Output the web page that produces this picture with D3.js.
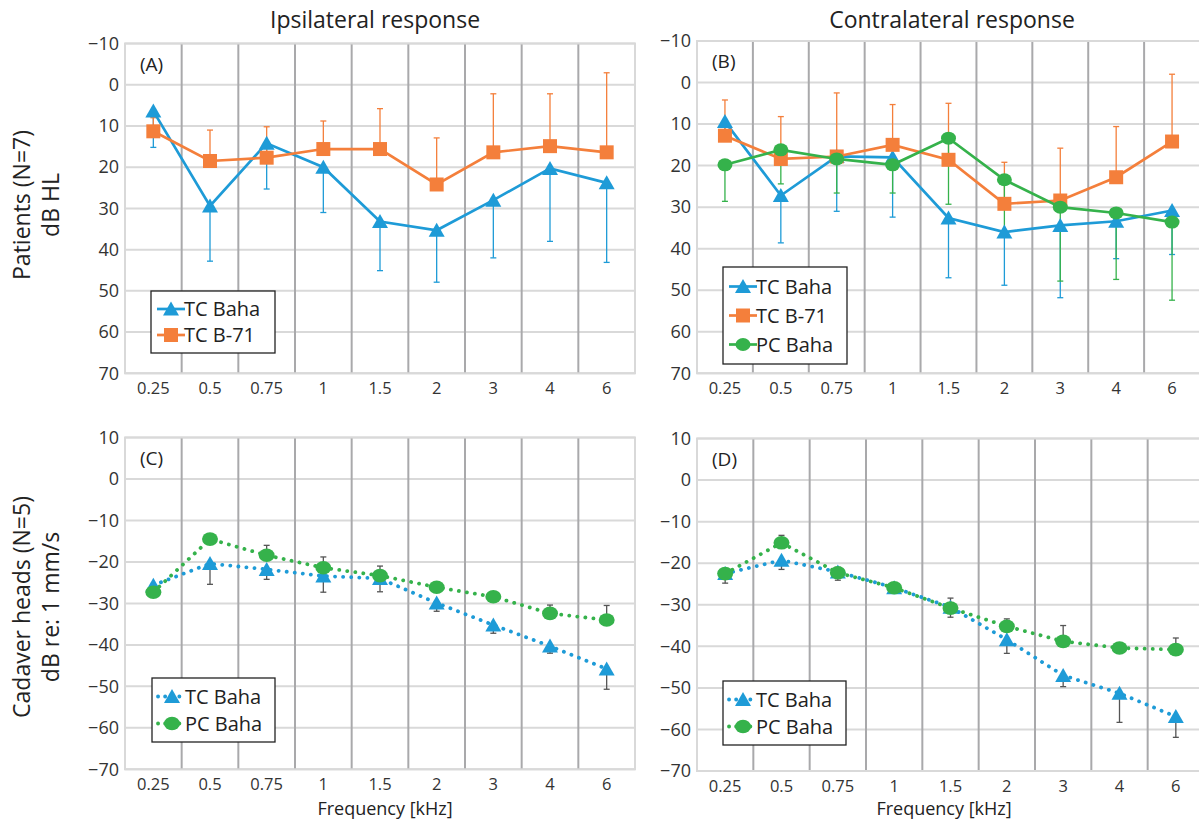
<!DOCTYPE html>
<html><head><meta charset="utf-8">
<script src="https://cdn.jsdelivr.net/npm/d3@7"></script>
<style>
body{margin:0;background:#fff;}
svg{display:block;font-family:"Open Sans",sans-serif;}
</style></head>
<body><svg id="chart" width="1199" height="825"></svg>
<script>
// ---------- data ----------
const freqs = ["0.25","0.5","0.75","1","1.5","2","3","4","6"];
const yTicksTop = [-10,0,10,20,30,40,50,60,70];
const yTicksBottom = [10,0,-10,-20,-30,-40,-50,-60,-70];

// Panel A (ipsilateral, patients)
const A_tcBaha    = [6.4, 29.4, 14.2, 20.0, 33.2, 35.3, 28.0, 20.3, 23.8];
const A_tcBahaErr = [15.2, 42.8, 25.3, 31.0, 45.1, 47.9, 42.0, 38.0, 43.1];
const A_tcB71     = [11.3, 18.5, 17.7, 15.6, 15.6, 24.2, 16.4, 14.9, 16.4];
const A_tcB71Err  = [8.0, 11.0, 10.2, 8.8, 5.8, 12.9, 2.2, 2.2, -2.9];

// Panel B (contralateral, patients)
const B_tcBaha    = [9.4, 27.2, 17.8, 18.0, 32.6, 36.0, 34.4, 33.4, 30.8];
const B_tcBahaErr = [13.0, 38.6, 31.0, 32.4, 47.0, 48.8, 51.8, 42.4, 41.4];
const B_tcB71     = [12.8, 18.4, 17.8, 15.0, 18.6, 29.2, 28.4, 22.8, 14.2];
const B_tcB71Err  = [4.2, 8.2, 2.5, 5.3, 5.0, 19.2, 15.8, 10.6, -2.0];
const B_pcBaha    = [19.8, 16.2, 18.4, 19.8, 13.4, 23.4, 30.0, 31.4, 33.6];
const B_pcBahaErr = [28.6, 24.4, 26.6, 26.6, 29.3, 36.0, 47.8, 47.4, 52.4];

// Panel C (ipsilateral, cadaver heads)
const C_tcBaha    = [-25.6, -20.4, -21.8, -23.4, -24.0, -29.9, -35.2, -40.3, -45.8];
const C_tcBahaErr = [-26.5, -25.4, -24.2, -27.3, -27.2, -31.9, -37.2, -42.0, -50.7];
const C_pcBaha    = [-27.3, -14.5, -18.4, -21.4, -23.3, -26.1, -28.4, -32.4, -34.0];
const C_pcBahaErr = [-26.5, -14.0, -16.0, -18.8, -21.0, -25.0, -28.0, -30.4, -30.5];

// Panel D (contralateral, cadaver heads)
const D_tcBaha    = [-22.5, -19.3, -22.1, -25.9, -30.6, -38.4, -47.0, -51.3, -56.9];
const D_tcBahaErr = [-24.8, -21.5, -24.1, -27.0, -33.0, -41.7, -49.7, -58.3, -61.9];
const D_pcBaha    = [-22.5, -15.1, -22.3, -25.9, -30.8, -35.2, -38.8, -40.4, -40.8];
const D_pcBahaErr = [-21.5, -13.3, -21.0, -25.0, -28.4, -33.4, -35.0, -39.5, -38.0];

// ---------- style ----------
const BLUE = "#1e9bd7", ORANGE = "#f47f3b", GREEN = "#35b24b", ERRGRAY = "#555";

const svg = d3.select("#chart");

function fmt(v){ return v < 0 ? "\u2212" + Math.abs(v) : String(v); }

function drawPanel(p){
  const g = svg.append("g");
  const x = d3.scaleBand().domain(freqs).range([p.left, p.right]).padding(0);
  const y = d3.scaleLinear().domain(p.domain).range([p.top, p.bottom]);

  g.selectAll(".hg").data(p.ticks).join("line")
    .attr("x1", p.left).attr("x2", p.right)
    .attr("y1", d => y(d)).attr("y2", d => y(d))
    .attr("stroke", "#d9d9d9").attr("stroke-width", 2);
  g.selectAll(".vg").data(freqs.slice(1)).join("line")
    .attr("x1", d => x(d)).attr("x2", d => x(d))
    .attr("y1", p.top).attr("y2", p.bottom)
    .attr("stroke", "#a9a9ab").attr("stroke-width", 2);
  g.append("rect").attr("x", p.left).attr("y", p.top)
    .attr("width", p.right - p.left).attr("height", p.bottom - p.top)
    .attr("fill", "none").attr("stroke", "#d9d9d9").attr("stroke-width", 2);

  const ya = d3.axisLeft(y).tickValues(p.ticks).tickSize(0).tickPadding(6).tickFormat(fmt);
  const yg = g.append("g").attr("transform", `translate(${p.left},0)`).call(ya);
  yg.select(".domain").remove();
  yg.selectAll("text").attr("font-size", 18).attr("fill", "#333")
    .attr("font-family", "Open Sans, sans-serif");

  const xa = d3.axisBottom(x).tickSize(0).tickPadding(9);
  const xg = g.append("g").attr("transform", `translate(0,${p.bottom})`).call(xa);
  xg.select(".domain").remove();
  xg.selectAll("text").attr("font-size", 16.5).attr("fill", "#333")
    .attr("font-family", "Open Sans, sans-serif");

  g.append("text").attr("x", p.left + 15).attr("y", p.top + 27)
    .attr("font-size", 19).attr("fill", "#222").text(p.letter);

  const cx = d => x(d) + x.bandwidth() / 2;

  p.series.forEach(s => {
    const pts = freqs.map((f, i) => ({f, v: s.values[i], e: s.err[i]}));
    const ec = s.errColor || s.color;
    const eg = g.append("g");
    eg.selectAll("line.e").data(pts).join("line")
      .attr("x1", d => cx(d.f)).attr("x2", d => cx(d.f))
      .attr("y1", d => y(d.v)).attr("y2", d => y(d.e))
      .attr("stroke", ec).attr("stroke-width", 1.3);
    eg.selectAll("line.c").data(pts).join("line")
      .attr("x1", d => cx(d.f) - 3).attr("x2", d => cx(d.f) + 3)
      .attr("y1", d => y(d.e)).attr("y2", d => y(d.e))
      .attr("stroke", ec).attr("stroke-width", 1.3);
  });
  p.series.forEach(s => {
    const pts = freqs.map((f, i) => ({f, v: s.values[i]}));
    const line = d3.line().x(d => cx(d.f)).y(d => y(d.v));
    const path = g.append("path").datum(pts).attr("d", line)
      .attr("fill", "none").attr("stroke", s.color);
    if (p.dotted) {
      path.attr("stroke-width", 3.8).attr("stroke-linecap", "round").attr("stroke-dasharray", "0.1 8");
    } else {
      path.attr("stroke-width", 2.7);
    }
    g.selectAll(null).data(pts).join("path")
      .attr("transform", d => `translate(${cx(d.f)},${y(d.v)})`)
      .attr("d", markerPath(s.marker, p.dotted))
      .attr("fill", s.color);
  });

  const L = p.legend;
  const lg = g.append("g");
  lg.append("rect").attr("x", L.x).attr("y", L.y).attr("width", L.w)
    .attr("height", L.rowH * p.series.length + 10)
    .attr("fill", "#fff").attr("stroke", "#222").attr("stroke-width", 1.3);
  p.series.forEach((s, i) => {
    const yy = L.y + 5 + L.rowH * (i + 0.5);
    const l = lg.append("line").attr("x1", L.x + 6).attr("x2", L.x + 34)
      .attr("y1", yy).attr("y2", yy).attr("stroke", s.color);
    if (p.dotted) l.attr("stroke-width", 3.8).attr("stroke-linecap", "round").attr("stroke-dasharray", "0.1 7");
    else l.attr("stroke-width", 2.7);
    lg.append("path").attr("transform", `translate(${L.x + 20},${yy})`)
      .attr("d", markerPath(s.marker, p.dotted)).attr("fill", s.color);
    lg.append("text").attr("x", L.x + 33).attr("y", yy + 7)
      .attr("font-size", 20).attr("fill", "#222").text(s.name);
  });
}

function markerPath(type, big){
  if (type === "triangle") {
    const w = 16, h = 13;
    return `M0,${-h/2 - 1}L${w/2},${h/2}L${-w/2},${h/2}Z`;
  }
  if (type === "square") {
    const s = 14;
    return `M${-s/2},${-s/2}h${s}v${s}h${-s}Z`;
  }
  const rx = big ? 8 : 7.5, ry = big ? 6.8 : 6.5;
  return `M${-rx},0A${rx},${ry} 0 1,0 ${rx},0A${rx},${ry} 0 1,0 ${-rx},0Z`;
}

drawPanel({
  left: 125, right: 635, top: 43.5, bottom: 373.3, domain: [-10, 70], ticks: yTicksTop,
  letter: "(A)", dotted: false,
  legend: {x: 151, y: 291, w: 124, rowH: 26},
  series: [
    {name: "TC Baha", color: BLUE, marker: "triangle", values: A_tcBaha, err: A_tcBahaErr},
    {name: "TC B-71", color: ORANGE, marker: "square", values: A_tcB71, err: A_tcB71Err}
  ]
});
drawPanel({
  left: 697, right: 1200, top: 41, bottom: 373.3, domain: [-10, 70], ticks: yTicksTop,
  letter: "(B)", dotted: false,
  legend: {x: 723, y: 267, w: 124, rowH: 29},
  series: [
    {name: "TC Baha", color: BLUE, marker: "triangle", values: B_tcBaha, err: B_tcBahaErr},
    {name: "TC B-71", color: ORANGE, marker: "square", values: B_tcB71, err: B_tcB71Err},
    {name: "PC Baha", color: GREEN, marker: "circle", values: B_pcBaha, err: B_pcBahaErr}
  ]
});
drawPanel({
  left: 125, right: 635, top: 437.5, bottom: 769.3, domain: [10, -70], ticks: yTicksBottom,
  letter: "(C)", dotted: true,
  legend: {x: 152, y: 678, w: 123, rowH: 27},
  series: [
    {name: "TC Baha", color: BLUE, marker: "triangle", values: C_tcBaha, err: C_tcBahaErr, errColor: ERRGRAY},
    {name: "PC Baha", color: GREEN, marker: "circle", values: C_pcBaha, err: C_pcBahaErr, errColor: ERRGRAY}
  ]
});
drawPanel({
  left: 697, right: 1204, top: 438.5, bottom: 771, domain: [10, -70], ticks: yTicksBottom,
  letter: "(D)", dotted: true,
  legend: {x: 723, y: 681, w: 123, rowH: 27},
  series: [
    {name: "TC Baha", color: BLUE, marker: "triangle", values: D_tcBaha, err: D_tcBahaErr, errColor: ERRGRAY},
    {name: "PC Baha", color: GREEN, marker: "circle", values: D_pcBaha, err: D_pcBahaErr, errColor: ERRGRAY}
  ]
});

svg.append("text").attr("x", 375).attr("y", 28).attr("text-anchor", "middle")
  .attr("font-size", 23).attr("fill", "#222").text("Ipsilateral response");
svg.append("text").attr("x", 952).attr("y", 28).attr("text-anchor", "middle")
  .attr("font-size", 23).attr("fill", "#222").text("Contralateral response");

function ytitle(lines, cy){
  lines.forEach((t, i) => {
    svg.append("text").attr("transform", `translate(${30 + i * 29},${cy}) rotate(-90)`)
      .attr("text-anchor", "middle").attr("font-size", 23).attr("fill", "#222").text(t);
  });
}
ytitle(["Patients (N=7)", "dB HL"], 205);
ytitle(["Cadaver heads (N=5)", "dB re: 1 mm/s"], 607);

[385, 944].forEach(cx => {
  svg.append("text").attr("x", cx).attr("y", 815).attr("text-anchor", "middle")
    .attr("font-size", 18).attr("fill", "#222")
    .attr("font-family", "Liberation Sans Narrow, Open Sans, sans-serif")
    .text("Frequency [kHz]");
});
</script>
</body></html>
